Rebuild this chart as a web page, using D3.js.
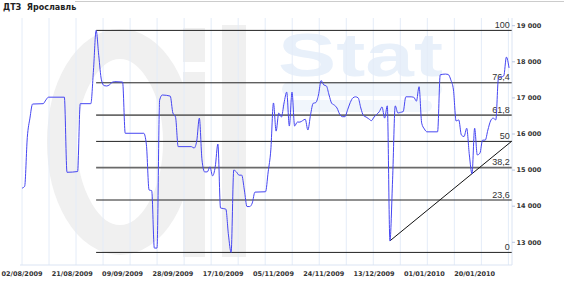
<!DOCTYPE html>
<html>
<head>
<meta charset="utf-8">
<script src="https://cdn.jsdelivr.net/npm/d3@7"></script>
<style>
body { margin: 0; background: #fff; }
svg { display: block; }
</style>
</head>
<body>
<div id="chart"></div>
<script>
// data
var chartTitle = "ДТЗ  Ярославль";
var startDate = new Date(2009, 7, 2);   // 02/08/2009, day 0

// days since 02/08/2009
var days = [
    0, 1, 2, 3, 4, 8, 9, 10, 16, 17,
    21, 22, 26, 27, 28, 29, 30, 31, 32, 33,
    34, 35, 38, 39, 46, 47, 48, 49, 50, 51,
    52, 53, 56, 57, 58, 59, 64, 65, 66, 67,
    68, 69, 70, 71, 72, 73, 74, 75, 77, 78,
    79, 80, 81, 82, 83, 84, 85, 86, 87, 88,
    92, 93, 94, 95, 96, 97, 98, 99, 100, 101,
    102, 103, 104, 105, 106, 107, 108, 109, 110, 111,
    112, 113, 114, 115, 116, 117, 118, 119, 120, 121,
    122, 123, 124, 125, 126, 127, 128, 129, 130, 131,
    132, 133, 134, 135, 136, 137, 138, 139, 140, 141,
    142, 143, 144, 145, 147, 148, 149, 150, 151, 152,
    153, 157, 158, 160, 161, 162, 163, 164, 165, 166,
    167, 168, 169, 170, 171, 172, 173, 174, 175, 176,
    177, 178, 179, 180, 181, 182, 183, 184
];
var prices = [
    14500, 14550, 15900, 16440, 16830, 16840, 16940, 17020, 17020, 14940,
    14960, 16840, 16840, 17770, 18870, 18170, 17500, 17340, 17330, 17360,
    17430, 17450, 17440, 16020, 16020, 15700, 14450, 14430, 12840, 12840,
    16940, 17080, 17050, 16580, 16470, 15650, 15650, 15610, 15800, 16440,
    15280, 14950, 14950, 15090, 14840, 15090, 15720, 13950, 13920, 13200,
    12720, 15000, 14950, 14860, 14860, 14450, 13990, 13990, 14090, 14390,
    14400, 14950, 15560, 16860, 16080, 16580, 16470, 16860, 17160, 16220,
    17160, 16220, 16330, 16330, 16370, 16410, 16110, 16530, 16850, 16870,
    17080, 17480, 17360, 17330, 17080, 16850, 16800, 16720, 16550, 16480,
    16480, 16670, 16870, 17000, 17030, 17000, 16720, 16510, 16470, 16420,
    16370, 16470, 16540, 16620, 16750, 16440, 16780, 13040, 14730, 16780,
    16580, 16600, 16620, 17030, 17030, 17020, 16910, 17310, 16300, 16140,
    16060, 16060, 17640, 17660, 17650, 17500, 17220, 16360, 16390, 15970,
    15930, 16160, 15420, 14900, 16160, 15420, 15470, 15830, 15830, 16110,
    16360, 16440, 16390, 17550, 17580, 17610, 18130, 17830
];

var fibLevels = [0, 23.6, 38.2, 50, 61.8, 76.4, 100];
var fibLabels = ["0", "23,6", "38,2", "50", "61,8", "76,4", "100"];

// trend line from the december low
var trendDays = [139, 185];
var trendValues = [13040, 15800];

var yTicks = [13000, 14000, 15000, 16000, 17000, 18000, 19000];
var labelEvery = 19;      // days between date labels
var labelCount = 10;
var gridCount = 19;
var gridStepHours = 245;  // vertical grid spacing

// build svg
var width = 564, height = 284;
var plotTop = 18, plotBottom = 265;

var svg = d3.select("#chart").append("svg")
    .attr("width", width)
    .attr("height", height);

var x = d3.scaleTime()
    .domain([startDate, d3.timeDay.offset(startDate, 185)])
    .range([22, 511.7]);

var y = d3.scaleLinear()
    .domain([13000, 19000])
    .range([242.3, 25.7]);

var points = days.map(function(d, i) {
    return {date: d3.timeDay.offset(startDate, d), value: prices[i]};
});

// watermark (faint logo in the background)
var wm = svg.append("g").attr("class", "watermark");
wm.append("ellipse")
    .attr("cx", 120).attr("cy", 142)
    .attr("rx", 58).attr("ry", 98)
    .attr("fill", "none")
    .attr("stroke", "#f0f0f0")
    .attr("stroke-width", 30);
wm.append("rect").attr("x", 183).attr("y", 28).attr("width", 22).attr("height", 34).attr("fill", "#f0f0f0");
wm.append("rect").attr("x", 183).attr("y", 72).attr("width", 22).attr("height", 185).attr("fill", "#f0f0f0");
wm.append("rect").attr("x", 222).attr("y", 25).attr("width", 24).attr("height", 232).attr("fill", "#f0f0f0");
wm.append("text")
    .attr("x", 278).attr("y", 76)
    .attr("textLength", 165)
    .attr("lengthAdjust", "spacingAndGlyphs")
    .style("font-family", "Liberation Sans, Arial, sans-serif")
    .style("font-weight", "bold")
    .style("font-size", "62px")
    .style("fill", "#e8f0fa")
    .text("Stat");
wm.append("rect").attr("x", 282).attr("y", 82).attr("width", 160).attr("height", 14).attr("rx", 7).attr("fill", "#eef4fb");
wm.append("rect").attr("x", 282).attr("y", 100).attr("width", 150).attr("height", 12).attr("rx", 6).attr("fill", "#f1f6fc");

// title and top rule
svg.append("line")
    .attr("x1", 75).attr("x2", width)
    .attr("y1", 1.5).attr("y2", 1.5)
    .attr("stroke", "#cccccc");

svg.append("text")
    .attr("x", 3).attr("y", 10)
    .style("font-family", "DejaVu Sans, Verdana, sans-serif")
    .style("font-weight", "bold")
    .style("font-size", "8px")
    .style("fill", "#222")
    .style("white-space", "pre")
    .attr("xml:space", "preserve")
    .text(chartTitle);

// vertical grid
var gridDates = d3.range(gridCount).map(function(i) {
    return d3.timeHour.offset(startDate, i * gridStepHours);
});
svg.append("g").selectAll("line")
    .data(gridDates)
    .enter().append("line")
    .attr("x1", function(d) { return x(d); })
    .attr("x2", function(d) { return x(d); })
    .attr("y1", plotTop).attr("y2", plotBottom)
    .attr("stroke", "#e4ecf8")
    .attr("stroke-width", 1);

// axis lines
svg.append("line")
    .attr("x1", 20).attr("x2", 512)
    .attr("y1", plotBottom).attr("y2", plotBottom)
    .attr("stroke", "#dbe4f3");
svg.append("line")
    .attr("x1", 512).attr("x2", 512)
    .attr("y1", plotTop).attr("y2", plotBottom)
    .attr("stroke", "#dbe4f3");

// y labels on the right
var yg = svg.append("g").selectAll("g")
    .data(yTicks)
    .enter().append("g")
    .attr("transform", function(d) { return "translate(512," + y(d) + ")"; });
yg.append("line")
    .attr("x1", 0).attr("x2", 3)
    .attr("stroke", "#b8c6e0");
yg.append("text")
    .attr("x", 4.5)
    .attr("dy", "0.35em")
    .style("font-family", "DejaVu Sans, Verdana, sans-serif")
    .style("font-weight", "bold")
    .style("font-size", "6.5px")
    .style("fill", "#333")
    .text(function(d) { return d3.format(",")(d).replace(",", " "); });

// date labels
var labelDates = d3.range(labelCount).map(function(i) {
    return d3.timeDay.offset(startDate, i * labelEvery);
});
svg.append("g").selectAll("text")
    .data(labelDates)
    .enter().append("text")
    .attr("x", function(d) { return x(d); })
    .attr("y", 275.5)
    .attr("text-anchor", "middle")
    .style("font-family", "DejaVu Sans, Verdana, sans-serif")
    .style("font-weight", "bold")
    .style("font-size", "6.5px")
    .style("fill", "#333")
    .text(function(d) { return d3.timeFormat("%d/%m/%Y")(d); });

// fibonacci levels from the high to the end
var low = d3.min(prices), high = d3.max(prices);
var highDate = points[prices.indexOf(high)].date;
var endDate = x.domain()[1];

var fib = svg.append("g").selectAll("g")
    .data(fibLevels)
    .enter().append("g");
fib.append("line")
    .attr("x1", x(highDate)).attr("x2", x(endDate))
    .attr("y1", function(d) { return y(low + (high - low) * d / 100); })
    .attr("y2", function(d) { return y(low + (high - low) * d / 100); })
    .attr("stroke", function(d) { return (d == 61.8 || d == 38.2) ? "#6a6a6a" : "#222"; })
    .attr("stroke-width", function(d) { return (d == 61.8 || d == 38.2) ? 1.8 : 1; });
fib.append("text")
    .attr("x", x(endDate) - 2)
    .attr("y", function(d) { return y(low + (high - low) * d / 100) - 2.5; })
    .attr("text-anchor", "end")
    .style("font-family", "Liberation Sans, Arial, sans-serif")
    .style("font-size", "9px")
    .style("fill", "#333")
    .text(function(d, i) { return fibLabels[i]; });

// trend line
svg.append("line")
    .attr("x1", x(d3.timeDay.offset(startDate, trendDays[0])))
    .attr("y1", y(trendValues[0]))
    .attr("x2", x(d3.timeDay.offset(startDate, trendDays[1])))
    .attr("y2", y(trendValues[1]))
    .attr("stroke", "#111")
    .attr("stroke-width", 1);

// price line
var line = d3.line()
    .x(function(d) { return x(d.date); })
    .y(function(d) { return y(d.value); })
    .curve(d3.curveMonotoneX);

svg.append("path")
    .datum(points)
    .attr("d", line)
    .attr("fill", "none")
    .attr("stroke", "#4646f2")
    .attr("stroke-width", 1);
</script>
</body>
</html>
